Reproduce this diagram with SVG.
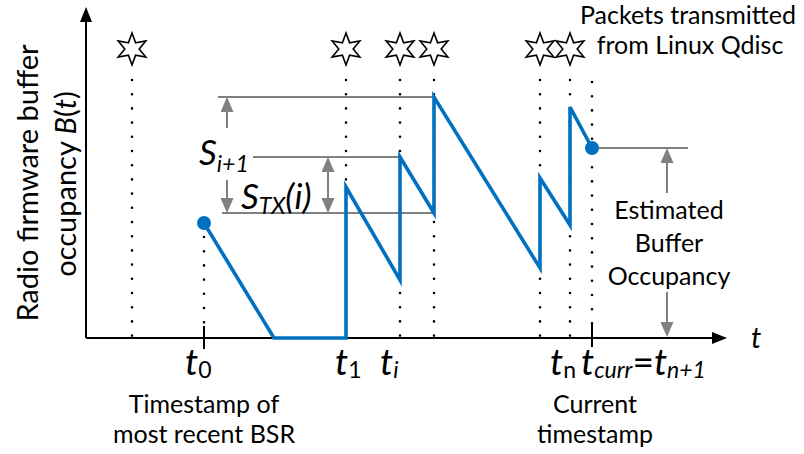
<svg xmlns="http://www.w3.org/2000/svg" width="804" height="454" viewBox="0 0 804 454">
<style>
.txt{font-family:Lato,"Open Sans","Liberation Sans",sans-serif;fill:#000}
.ann{font-size:25px;text-anchor:middle}
.ylab{font-size:29px;text-anchor:middle}
.math{font-size:37px}
.it{font-style:italic}
.sub{font-size:23px}
.axis{stroke:#000;stroke-width:2;fill:none}
.dots{stroke:#000;stroke-width:2.6;stroke-linecap:round;stroke-dasharray:0 14.2;fill:none}
.gray{stroke:#808080;stroke-width:2;fill:none}
.blue{stroke:#0070C0;stroke-width:3.6;fill:none;stroke-linejoin:miter}
.star{fill:#fff;stroke:#000;stroke-width:1.6;stroke-linejoin:miter}
</style>
<defs>
<marker id="ga" viewBox="0 0 15 13" refX="13" refY="6.5" markerWidth="15" markerHeight="13" markerUnits="userSpaceOnUse" orient="auto-start-reverse">
<path d="M0,0 L15,6.5 L0,13 z" fill="#808080"/>
</marker>
<marker id="ba" viewBox="0 0 15 12" refX="13" refY="6" markerWidth="15" markerHeight="12" markerUnits="userSpaceOnUse" orient="auto">
<path d="M0,0 L15,6 L0,12 z" fill="#000"/>
</marker>
<path id="star" class="star" d="M0,-16 L3.6,-6.2 L13.86,-8 L7.2,0 L13.86,8 L3.6,6.2 L0,16 L-3.6,6.2 L-13.86,8 L-7.2,0 L-13.86,-8 L-3.6,-6.2 Z"/>
</defs>

<g id="axes">
<line class="axis" x1="86" y1="338" x2="86" y2="9" marker-end="url(#ba)"/>
<line class="axis" x1="86" y1="338" x2="725" y2="338" marker-end="url(#ba)"/>
<line class="axis" x1="204" y1="326" x2="204" y2="349"/>
<line class="axis" x1="592" y1="323" x2="592" y2="347"/>
</g>

<g id="y-label" class="txt">
<text class="ylab" transform="translate(38,183) rotate(-90)">Radio firmware buffer</text>
<text class="ylab" transform="translate(76,184) rotate(-90)">occupancy <tspan class="it">B</tspan>(<tspan class="it">t</tspan>)</text>
</g>

<g id="dotted-lines">
<line class="dots" x1="132" y1="80" x2="132" y2="337"/>
<line class="dots" x1="204" y1="237" x2="204" y2="323"/>
<line class="dots" x1="346" y1="80" x2="346" y2="180"/>
<line class="dots" x1="400" y1="80" x2="400" y2="337"/>
<line class="dots" x1="434" y1="80" x2="434" y2="337"/>
<line class="dots" x1="540" y1="80" x2="540" y2="337"/>
<line class="dots" x1="570" y1="80" x2="570" y2="337"/>
<line class="dots" x1="592" y1="82" x2="592" y2="324"/>
</g>

<g id="stars">
<use href="#star" x="132" y="49"/>
<use href="#star" x="346" y="49"/>
<use href="#star" x="400" y="49"/>
<use href="#star" x="434" y="49"/>
<use href="#star" x="540" y="49"/>
<use href="#star" x="570" y="49"/>
</g>

<g id="connectors">
<line class="gray" x1="218" y1="97" x2="434" y2="97"/>
<line class="gray" x1="253" y1="157" x2="400" y2="157"/>
<line class="gray" x1="222" y1="213" x2="434" y2="213"/>
<line class="gray" x1="592" y1="148" x2="688" y2="148"/>
<line class="gray" x1="227" y1="128" x2="227" y2="99" marker-end="url(#ga)"/>
<line class="gray" x1="227" y1="180" x2="227" y2="211" marker-end="url(#ga)"/>
<line class="gray" x1="328" y1="159" x2="328" y2="211" marker-start="url(#ga)" marker-end="url(#ga)"/>
<line class="gray" x1="667" y1="193" x2="667" y2="150" marker-end="url(#ga)"/>
<line class="gray" x1="667" y1="292" x2="667" y2="335" marker-end="url(#ga)"/>
</g>

<g id="buffer-curve">
<polyline class="blue" points="204,223 274,338 346,338 346,187 400,280 400,157 434,213 434,97 540,268 540,178 570,225 570,107 592,148"/>
<circle cx="204" cy="223" r="7" fill="#0070C0"/>
<circle cx="592" cy="148" r="7" fill="#0070C0"/>
</g>

<g id="s-labels" class="txt">
<text x="199" y="165" font-size="35"><tspan class="it">S</tspan><tspan class="it sub" dy="7">i+1</tspan></text>
<text x="241" y="209" font-size="35"><tspan class="it">S</tspan><tspan class="it sub" dy="5">TX</tspan><tspan class="it" dy="-5">(i)</tspan></text>
</g>

<g id="time-labels" class="txt">
<text class="math" x="185" y="375"><tspan class="it">t</tspan><tspan class="sub" dy="3">0</tspan></text>
<text class="math" x="335" y="375"><tspan class="it">t</tspan><tspan class="sub" dy="3">1</tspan></text>
<text class="math" x="380" y="375"><tspan class="it">t</tspan><tspan class="sub it" dy="3">i</tspan></text>
<text class="math" x="550" y="375"><tspan class="it">t</tspan><tspan class="sub" dy="3">n</tspan></text>
<text class="math" x="581" y="375"><tspan class="it">t</tspan><tspan class="sub it" dy="3">curr</tspan><tspan dy="-3">=</tspan><tspan class="it">t</tspan><tspan class="sub it" dy="3">n+1</tspan></text>
<text x="751" y="348" font-size="29" class="it">t</text>
</g>

<g id="annotations" class="txt">
<text class="ann" x="688" y="24" font-size="24.5">Packets transmitted</text>
<text class="ann" x="690" y="54">from Linux Qdisc</text>
<text class="ann" x="204" y="413">Timestamp of</text>
<text class="ann" x="204" y="443">most recent BSR</text>
<text class="ann" x="595" y="413">Current</text>
<text class="ann" x="595" y="443">timestamp</text>
<text class="ann" x="669" y="219">Estimated</text>
<text class="ann" x="669" y="252">Buffer</text>
<text class="ann" x="669" y="285">Occupancy</text>
</g>
</svg>
